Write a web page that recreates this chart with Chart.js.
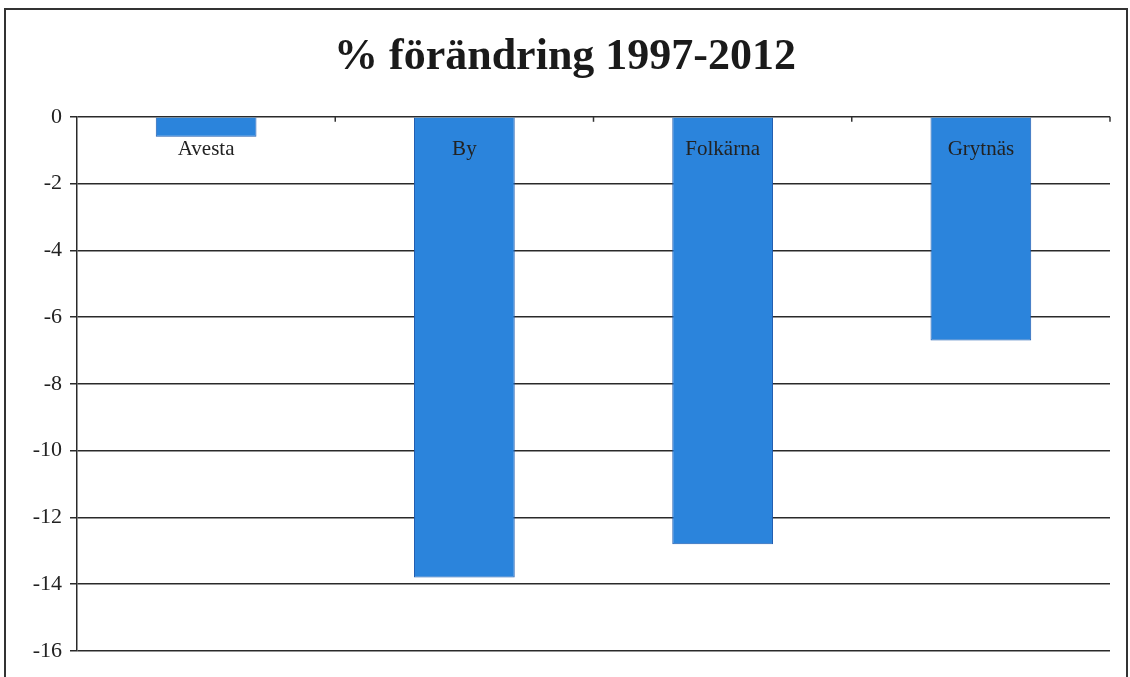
<!DOCTYPE html>
<html>
<head>
<meta charset="utf-8">
<script src="https://cdn.jsdelivr.net/npm/chart.js@4.4.1/dist/chart.umd.min.js"></script>
<style>
html,body{margin:0;padding:0;background:#fff;width:1130px;height:677px;overflow:hidden;}
#frame{position:absolute;left:4px;top:8px;width:1120px;height:700px;border-left:2px solid #333;border-top:2px solid #333;border-right:2px solid #333;}
#wrap{position:absolute;left:0;top:0;width:1130px;height:677px;}
</style>
</head>
<body>
<div id="frame"></div>
<div id="wrap"><canvas id="c" width="1130" height="677"></canvas></div>
<script>
const categories = ["Avesta", "By", "Folkärna", "Grytnäs"];
const values = [-0.6, -13.8, -12.8, -6.7];
const yTicks = [0, -2, -4, -6, -8, -10, -12, -14, -16];

const catLabels = {
  id: 'catLabels',
  afterDatasetsDraw(chart) {
    const ctx = chart.ctx;
    const xs = chart.scales.x, ys = chart.scales.y;
    const y0 = ys.getPixelForValue(0);
    const step = xs.getPixelForValue(1) - xs.getPixelForValue(0);
    ctx.save();
    ctx.strokeStyle = '#333';
    ctx.lineWidth = 1.5;
    for (let i = 0; i < categories.length; i++) {
      const xb = xs.getPixelForValue(i) + step / 2;
      ctx.beginPath();
      ctx.moveTo(xb, y0);
      ctx.lineTo(xb, y0 + 5);
      ctx.stroke();
    }
    ctx.fillStyle = '#222';
    ctx.font = '21px "Liberation Serif", serif';
    ctx.textAlign = 'center';
    ctx.textBaseline = 'middle';
    categories.forEach((c, i) => {
      ctx.fillText(c, xs.getPixelForValue(i), y0 + 33);
    });
    ctx.restore();
  }
};

new Chart(document.getElementById('c'), {
  type: 'bar',
  data: {
    labels: categories,
    datasets: [{
      data: values,
      backgroundColor: '#2b84dc',
      borderColor: '#1f5cb0',
      borderWidth: 1,
      categoryPercentage: 1.0,
      barPercentage: 0.39
    }]
  },
  options: {
    responsive: false,
    animation: false,
    layout: { padding: { left: 20, right: 20, top: 0, bottom: 26 } },
    plugins: {
      legend: { display: false },
      tooltip: { enabled: false },
      title: {
        display: true,
        text: '% förändring 1997-2012',
        color: '#1a1a1a',
        font: { family: '"Liberation Serif", serif', size: 44, weight: 'bold' },
        padding: { top: 31, bottom: 33 }
      }
    },
    scales: {
      x: {
        display: false
      },
      y: {
        min: -16,
        max: 0,
        afterFit(scale) { scale.width = 57; },
        afterBuildTicks(scale) { scale.ticks = yTicks.map(v => ({ value: v })); },
        ticks: {
          color: '#222',
          font: { family: '"Liberation Serif", serif', size: 22 },
          padding: 8
        },
        grid: {
          color: '#2a2a2a',
          lineWidth: 1.5,
          tickLength: 7,
          drawTicks: true
        },
        border: { display: true, color: '#2a2a2a', width: 1.5 }
      }
    }
  },
  plugins: [catLabels]
});
</script>
</body>
</html>
